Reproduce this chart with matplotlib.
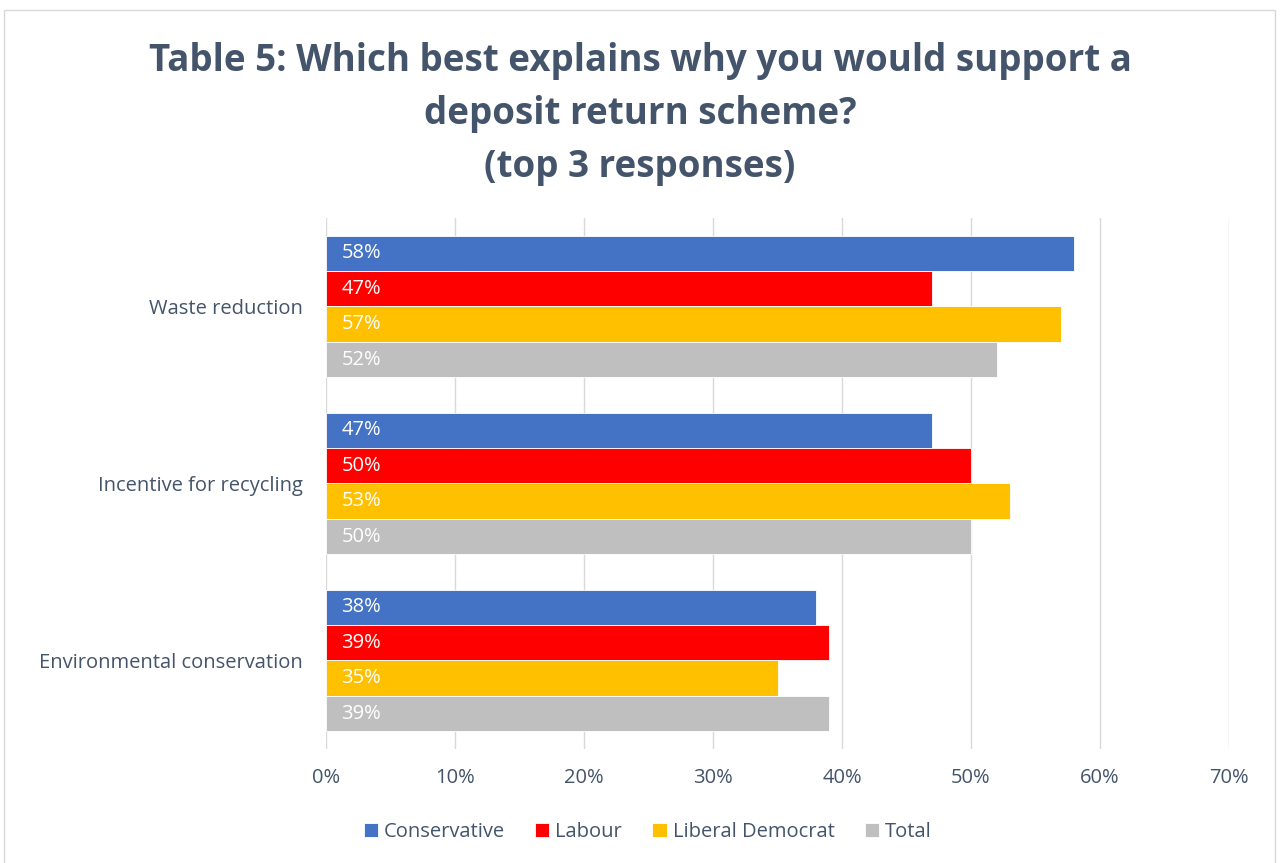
import matplotlib.pyplot as plt
import numpy as np
from matplotlib.patches import Rectangle

plt.rcParams['font.family'] = ['Open Sans', 'DejaVu Sans']

categories = ['Waste reduction', 'Incentive for recycling', 'Environmental conservation']
series = ['Conservative', 'Labour', 'Liberal Democrat', 'Total']
conservative = [58, 47, 38]
labour = [47, 50, 39]
lib_dem = [57, 53, 35]
total = [52, 50, 39]
colors = ['#4472C4', '#FF0000', '#FFC000', '#BFBFBF']
x_ticks = [0, 10, 20, 30, 40, 50, 60, 70]

values = [conservative, labour, lib_dem, total]
text_color = '#44546A'

fig = plt.figure(figsize=(12.8, 8.63), dpi=100)
ax = fig.add_axes([0.2547, 0.1321, 0.7055, 0.6153])

# light frame around the whole chart
fig.patches.append(Rectangle((0.003, -0.01), 0.993, 0.998, transform=fig.transFigure,
                             fill=False, edgecolor='#D9D9D9', linewidth=1))

y = np.arange(len(categories))
bar_h = 0.2
for i, (name, vals) in enumerate(zip(series, values)):
    pos = y - 0.3 + i * bar_h
    bars = ax.barh(pos, vals, height=bar_h, color=colors[i], label=name,
                   edgecolor='white', linewidth=0.6, zorder=3)
    for b, v in zip(bars, vals):
        ax.text(1.2, b.get_y() + b.get_height() / 2, f'{v}%', color='white',
                fontsize=14.5, va='center', ha='left', zorder=4)

ax.set_ylim(2.5, -0.5)
ax.set_xlim(0, 70)
ax.set_xticks(x_ticks)
ax.set_xticklabels([f'{t}%' for t in x_ticks], fontsize=14.5, color=text_color)
ax.set_yticks(y)
ax.set_yticklabels(categories, fontsize=14.5, color=text_color)
ax.tick_params(axis='x', length=0, pad=14)
ax.tick_params(axis='y', length=0, pad=17)
ax.grid(axis='x', color='#D9D9D9', linewidth=1, zorder=0)
for s in ax.spines.values():
    s.set_visible(False)

fig.text(0.5, 0.868, 'Table 5: Which best explains why you would support a\ndeposit return scheme?\n(top 3 responses)',
         ha='center', va='center', fontsize=26.5, fontweight='bold', color=text_color,
         linespacing=1.52)

fig.legend(loc='center', bbox_to_anchor=(0.506, 0.036), ncol=4, frameon=False,
           fontsize=14.5, handlelength=0.7, handleheight=0.7, handletextpad=0.3,
           columnspacing=1.5, labelcolor=text_color)

fig.savefig('out.png', dpi=100)
